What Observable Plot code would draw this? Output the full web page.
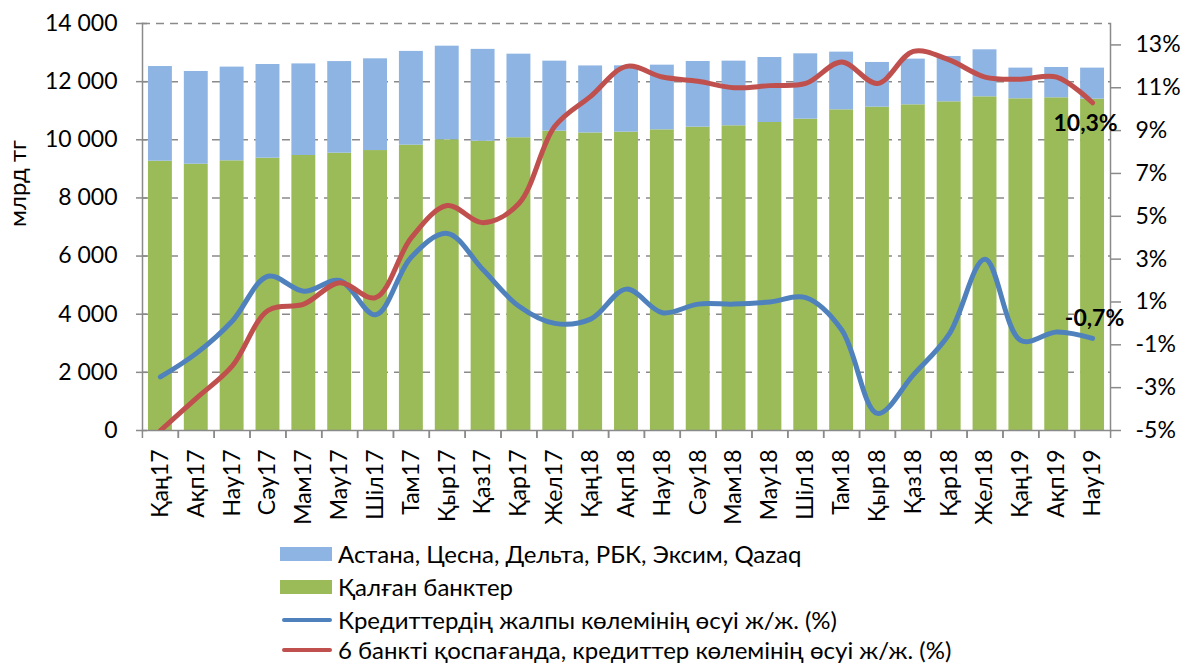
<!DOCTYPE html>
<html><head><meta charset="utf-8">
<script src="https://cdn.jsdelivr.net/npm/d3@7"></script>
<script src="https://cdn.jsdelivr.net/npm/@observablehq/plot@0.6"></script>
<style>
body{margin:0;background:#fff;font-family:Lato,"Noto Sans",sans-serif;}
#wrap{position:relative;width:1184px;height:664px;overflow:hidden;background:#fff;}
.leg{position:absolute;left:280px;height:28px;font-size:24px;line-height:28px;display:flex;align-items:center;white-space:nowrap;color:#000;}
.sw{display:inline-block;width:52px;height:14px;margin-right:6px;}
.ln{display:inline-block;width:50px;height:4px;border-radius:2px;margin-left:2px;margin-right:6px;}
</style></head><body>
<div id="wrap"><div id="chart"></div><div id="legend"></div></div>
<script>
const months = ["Қаң17","Ақп17","Нау17","Сәу17","Мам17","Мау17","Шіл17","Там17","Қыр17","Қаз17","Қар17","Жел17",
  "Қаң18","Ақп18","Нау18","Сәу18","Мам18","Мау18","Шіл18","Там18","Қыр18","Қаз18","Қар18","Жел18","Қаң19","Ақп19","Нау19"];
// Қалған банктер (млрд тг)
const otherBanks = [9264,9160,9277,9368,9460,9540,9630,9815,10000,9950,10070,10297,10235,10263,10343,10435,10481,10595,10710,11030,11122,11203,11306,11478,11410,11444,11398];
// Астана, Цесна, Дельта, РБК, Эксим, Qazaq (млрд тг)
const sixBanks = [3256,3190,3223,3222,3150,3150,3155,3225,3220,3160,2875,2408,2305,2282,2224,2259,2224,2235,2247,1985,1538,1572,1560,1617,1055,1043,1067];
// Кредиттердің жалпы көлемінің өсуі ж/ж. (%)
const growthAll = [-2.5,-1.4,0.1,2.2,1.5,2.0,0.4,3.1,4.2,2.5,0.8,0.0,0.2,1.6,0.5,0.9,0.9,1.0,1.2,-0.3,-4.2,-2.4,-0.5,3.0,-0.8,-0.4,-0.7];
// 6 банкті қоспағанда (%)
const growthEx6 = [-5.0,-3.5,-2.0,0.6,0.9,1.9,1.2,4.0,5.5,4.7,5.6,9.2,10.6,12.0,11.5,11.3,11.0,11.1,11.2,12.2,11.2,12.7,12.3,11.5,11.4,11.5,10.3];
const leftTicks = [0,2000,4000,6000,8000,10000,12000,14000];
const rightTicks = [-5,-3,-1,1,3,5,7,9,11,13];
const seriesNames = ["Астана, Цесна, Дельта, РБК, Эксим, Qazaq","Қалған банктер","Кредиттердің жалпы көлемінің өсуі ж/ж. (%)","6 банкті қоспағанда, кредиттер көлемінің өсуі ж/ж. (%)"];
const colors = ["#8DB4E2","#9BBB59","#4F81BD","#C0504D"];

const pMin = -5, pMax = 14, vMax = 14000;
const toV = p => (p - pMin) / (pMax - pMin) * vMax;
const fromV = v => v / vMax * (pMax - pMin) + pMin;

const rows = months.map((m, i) => ({month: m, other: otherBanks[i], total: otherBanks[i] + sixBanks[i], g: growthAll[i], r: growthEx6[i]}));
const last = [rows[rows.length - 1]];
const fmtK = d => d3.format(",")(d).replace(/,/g, " ");
const fmtP = d => d.toFixed(1).replace(".", ",") + "%";
const axisGrey = "#8a8a8a";

const chart = Plot.plot({
  width: 1184, height: 530,
  marginTop: 23, marginBottom: 100, marginLeft: 142, marginRight: 74,
  style: {fontFamily: "Lato, 'Noto Sans', sans-serif", fontSize: "23px", color: "#000", background: "#fff", overflow: "visible"},
  x: {domain: months, paddingInner: 0.333, paddingOuter: 0.1665, round: false, align: 0.5, axis: null, label: null},
  y: {domain: [0, vMax], axis: null, label: null},
  marks: [
    Plot.ruleY(leftTicks.slice(1), {stroke: axisGrey, strokeWidth: 1.5, strokeDasharray: "8,6"}),
    Plot.barY(rows, {x: "month", y1: 0, y2: "other", fill: colors[1]}),
    Plot.barY(rows, {x: "month", y1: "other", y2: "total", fill: colors[0]}),
    Plot.frame({anchor: "left", stroke: axisGrey, strokeWidth: 1.5}),
    Plot.frame({anchor: "right", stroke: axisGrey, strokeWidth: 1.5}),
    Plot.frame({anchor: "bottom", stroke: axisGrey, strokeWidth: 1.5}),
    Plot.axisY({anchor: "left", label: null, ticks: leftTicks, tickFormat: fmtK, tickSize: 6, tickPadding: 19, stroke: axisGrey, strokeWidth: 1.5, fontSize: 23}),
    Plot.axisY({anchor: "left", label: null, ticks: leftTicks, tickFormat: () => "", tickSize: -5, stroke: axisGrey, strokeWidth: 1.5}),
    Plot.axisY({anchor: "right", label: null, ticks: rightTicks.map(toV), tickFormat: v => Math.round(fromV(v)) + "%", tickSize: 10, tickPadding: 15, stroke: axisGrey, strokeWidth: 1.5, fontSize: 23}),
    Plot.axisX({label: null, tickSize: 0, tickPadding: 19, tickRotate: -90, fontSize: 23}),
    Plot.axisX({label: null, tickSize: 8, tickFormat: () => "", dx: -18, stroke: axisGrey, strokeWidth: 1.5}),
    Plot.axisX({label: null, tickSize: 8, tickFormat: () => "", dx: 18, stroke: axisGrey, strokeWidth: 1.5}),
    Plot.line(rows, {x: "month", y: d => toV(d.g), stroke: colors[2], strokeWidth: 5, curve: "catmull-rom", clip: true}),
    Plot.line(rows, {x: "month", y: d => toV(d.r), stroke: colors[3], strokeWidth: 5, curve: "catmull-rom", clip: true}),
    Plot.text(last, {x: "month", y: d => toV(d.r), text: d => fmtP(d.r), dy: 21, dx: -7, fontWeight: "bold", fontSize: 23, fill: "#000"}),
    Plot.text(last, {x: "month", y: d => toV(d.g), text: d => fmtP(d.g), dy: -20, dx: 2, fontWeight: "bold", fontSize: 23, fill: "#000"}),
    Plot.text(["млрд тг"], {frameAnchor: "left", dx: -124, rotate: -90, text: d => d, fontSize: 24, fill: "#000"})
  ]
});
document.getElementById("chart").appendChild(chart);

const legendTops = [540, 573, 606, 636];
const legend = document.getElementById("legend");
seriesNames.forEach((name, i) => {
  const div = document.createElement("div");
  div.className = "leg";
  div.style.top = legendTops[i] + "px";
  const sw = document.createElement("span");
  sw.className = i < 2 ? "sw" : "ln";
  sw.style.background = colors[i];
  div.appendChild(sw);
  div.appendChild(document.createTextNode(name));
  legend.appendChild(div);
});
</script>
</body></html>
